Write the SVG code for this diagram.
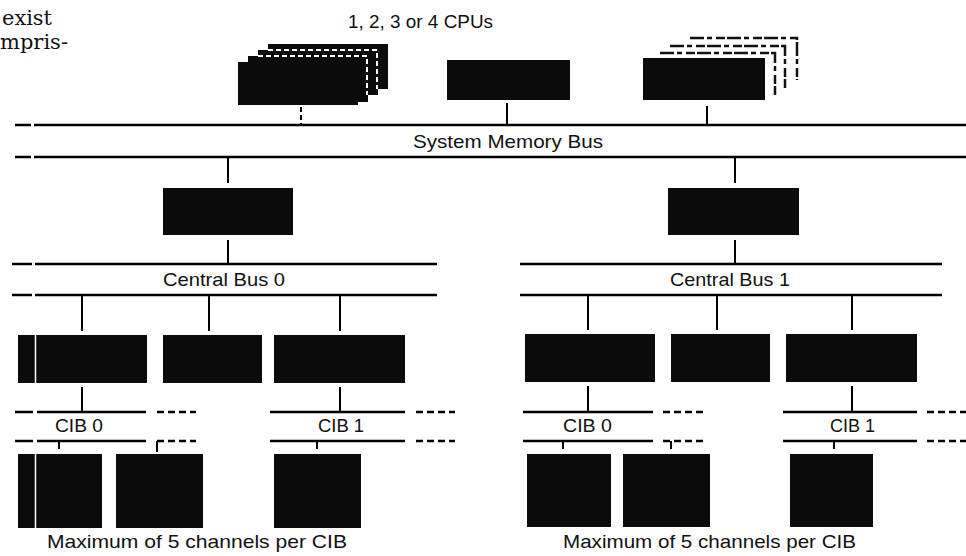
<svg xmlns="http://www.w3.org/2000/svg" width="966" height="556" viewBox="0 0 966 556">
<style>
  .bus{stroke:#000;stroke-width:2.5;fill:none}
  .dash{stroke:#000;stroke-width:2.5;stroke-dasharray:7 4;fill:none}
  .conn{stroke:#000;stroke-width:2;fill:none}
  .box{fill:#0b0b0b}
  .edge{fill:none;stroke:#fff;stroke-width:2;stroke-dasharray:5 3}
  .ghost{fill:none;stroke:#111;stroke-width:2.5;stroke-dasharray:14 3 5 4 9 2}
  .crease{stroke:#fff;stroke-width:1.5}
  .lbl{font-family:"Liberation Sans",Arial,sans-serif;font-size:19px;fill:#111}
  .serif{font-family:"DejaVu Serif","Liberation Serif",serif;font-size:21px;fill:#111}
</style>
<rect width="966" height="556" fill="#fff"/>

<g id="page-text">
  <text class="serif" x="2" y="25" textLength="50" lengthAdjust="spacingAndGlyphs">exist</text>
  <text class="serif" x="0" y="49" textLength="68" lengthAdjust="spacingAndGlyphs">mpris-</text>
</g>

<g id="cpu-label">
  <text class="lbl" x="348" y="28" font-size="17" textLength="145" lengthAdjust="spacingAndGlyphs">1, 2, 3 or 4 CPUs</text>
</g>

<g id="cpu-1">
  <rect class="box" x="268" y="44" width="120" height="45"/>
  <rect class="box" x="258" y="50" width="120" height="45"/>
  <polyline class="edge" points="268,50 377,50 377,89"/>
  <rect class="box" x="248" y="56" width="120" height="46"/>
  <polyline class="edge" points="258,56 367,56 367,95"/>
  <rect class="box" x="238" y="62" width="120" height="43"/>
</g>
<g id="cpu-2">
  <rect class="box" x="447" y="60" width="123" height="40"/>
</g>
<g id="cpu-3">
  <polyline class="ghost" points="690,38 797,38 797,80"/>
  <polyline class="ghost" points="670,46 785,46 785,88"/>
  <polyline class="ghost" points="660,53 775,53 775,95"/>
  <rect class="box" x="643" y="58" width="122" height="42"/>
</g>

<g id="system-memory-bus">
  <line class="bus" x1="15" y1="125" x2="31" y2="125"/>
  <line class="bus" x1="34" y1="125" x2="966" y2="125"/>
  <line class="bus" x1="15" y1="157" x2="31" y2="157"/>
  <line class="bus" x1="34" y1="157" x2="966" y2="157"/>
  <text class="lbl" x="413" y="148" textLength="190" lengthAdjust="spacingAndGlyphs">System Memory Bus</text>
</g>

<g id="bus-adapter-0"><rect class="box" x="163" y="188" width="130" height="47"/></g>
<g id="bus-adapter-1"><rect class="box" x="668" y="188" width="131" height="47"/></g>

<g id="central-bus-0">
  <line class="bus" x1="12" y1="264" x2="32" y2="264"/>
  <line class="bus" x1="35" y1="264" x2="437" y2="264"/>
  <line class="bus" x1="12" y1="295" x2="32" y2="295"/>
  <line class="bus" x1="35" y1="295" x2="437" y2="295"/>
  <text class="lbl" x="163" y="286" textLength="122" lengthAdjust="spacingAndGlyphs">Central Bus 0</text>
</g>
<g id="central-bus-1">
  <line class="bus" x1="520" y1="264" x2="942" y2="264"/>
  <line class="bus" x1="520" y1="295" x2="942" y2="295"/>
  <text class="lbl" x="670" y="286" textLength="120" lengthAdjust="spacingAndGlyphs">Central Bus 1</text>
</g>

<g id="adapter-0a"><rect class="box" x="18" y="335" width="129" height="48"/><line class="crease" x1="35.5" y1="335" x2="35.5" y2="383"/></g>
<g id="adapter-0b"><rect class="box" x="163" y="335" width="99" height="48"/></g>
<g id="adapter-0c"><rect class="box" x="274" y="335" width="131" height="48"/></g>
<g id="adapter-1a"><rect class="box" x="525" y="334" width="130" height="48"/></g>
<g id="adapter-1b"><rect class="box" x="671" y="334" width="99" height="48"/></g>
<g id="adapter-1c"><rect class="box" x="786" y="334" width="131" height="48"/></g>

<g id="cib-0-left">
  <line class="bus" x1="15" y1="412" x2="33" y2="412"/>
  <line class="bus" x1="37" y1="412" x2="146" y2="412"/>
  <line class="bus" x1="15" y1="441" x2="33" y2="441"/>
  <line class="bus" x1="37" y1="441" x2="146" y2="441"/>
  <line class="dash" x1="157" y1="412" x2="196" y2="412"/>
  <line class="dash" x1="157" y1="441" x2="196" y2="441"/>
  <text class="lbl" x="55" y="432" textLength="48" lengthAdjust="spacingAndGlyphs">CIB 0</text>
</g>
<g id="cib-1-left">
  <line class="bus" x1="270" y1="412" x2="405" y2="412"/>
  <line class="bus" x1="270" y1="441" x2="405" y2="441"/>
  <line class="dash" x1="416" y1="412" x2="455" y2="412"/>
  <line class="dash" x1="416" y1="441" x2="455" y2="441"/>
  <text class="lbl" x="318" y="432" textLength="46" lengthAdjust="spacingAndGlyphs">CIB 1</text>
</g>
<g id="cib-0-right">
  <line class="bus" x1="523" y1="412" x2="653" y2="412"/>
  <line class="bus" x1="523" y1="441" x2="653" y2="441"/>
  <line class="dash" x1="663" y1="412" x2="703" y2="412"/>
  <line class="dash" x1="663" y1="441" x2="703" y2="441"/>
  <text class="lbl" x="563" y="432" textLength="49" lengthAdjust="spacingAndGlyphs">CIB 0</text>
</g>
<g id="cib-1-right">
  <line class="bus" x1="783" y1="412" x2="917" y2="412"/>
  <line class="bus" x1="783" y1="441" x2="917" y2="441"/>
  <line class="dash" x1="927" y1="412" x2="966" y2="412"/>
  <line class="dash" x1="927" y1="441" x2="966" y2="441"/>
  <text class="lbl" x="830" y="432" textLength="45" lengthAdjust="spacingAndGlyphs">CIB 1</text>
</g>

<g id="channel-0a"><rect class="box" x="18" y="454" width="84" height="74"/><line class="crease" x1="35.5" y1="454" x2="35.5" y2="528"/></g>
<g id="channel-0b"><rect class="box" x="116" y="454" width="87" height="74"/></g>
<g id="channel-0c"><rect class="box" x="274" y="454" width="87" height="74"/></g>
<g id="channel-1a"><rect class="box" x="527" y="454" width="84" height="73"/></g>
<g id="channel-1b"><rect class="box" x="623" y="454" width="87" height="73"/></g>
<g id="channel-1c"><rect class="box" x="790" y="454" width="83" height="73"/></g>

<g id="captions">
  <text class="lbl" x="47" y="548" textLength="300" lengthAdjust="spacingAndGlyphs">Maximum of 5 channels per CIB</text>
  <text class="lbl" x="563" y="548" textLength="293" lengthAdjust="spacingAndGlyphs">Maximum of 5 channels per CIB</text>
</g>

<g id="connectors">
  <line class="conn" x1="301" y1="107" x2="301" y2="124" stroke-dasharray="5 3"/>
  <line class="conn" x1="507" y1="103" x2="507" y2="124"/>
  <line class="conn" x1="707" y1="106" x2="707" y2="124"/>
  <line class="conn" x1="228" y1="157" x2="228" y2="183"/>
  <line class="conn" x1="735" y1="157" x2="735" y2="183"/>
  <line class="conn" x1="228" y1="240" x2="228" y2="264"/>
  <line class="conn" x1="735" y1="240" x2="735" y2="264"/>
  <line class="conn" x1="82" y1="295" x2="82" y2="331"/>
  <line class="conn" x1="209" y1="295" x2="209" y2="331"/>
  <line class="conn" x1="340" y1="295" x2="340" y2="331"/>
  <line class="conn" x1="588" y1="295" x2="588" y2="330"/>
  <line class="conn" x1="717" y1="295" x2="717" y2="330"/>
  <line class="conn" x1="852" y1="295" x2="852" y2="330"/>
  <line class="conn" x1="82" y1="387" x2="82" y2="412"/>
  <line class="conn" x1="340" y1="387" x2="340" y2="412"/>
  <line class="conn" x1="588" y1="386" x2="588" y2="412"/>
  <line class="conn" x1="852" y1="386" x2="852" y2="412"/>
  <line class="conn" x1="59" y1="441" x2="59" y2="449"/>
  <line class="conn" x1="157" y1="441" x2="157" y2="452"/>
  <line class="conn" x1="317" y1="441" x2="317" y2="449"/>
  <line class="conn" x1="563" y1="441" x2="563" y2="449"/>
  <line class="conn" x1="671" y1="441" x2="671" y2="449"/>
  <line class="conn" x1="834" y1="441" x2="834" y2="449"/>
</g>
</svg>
